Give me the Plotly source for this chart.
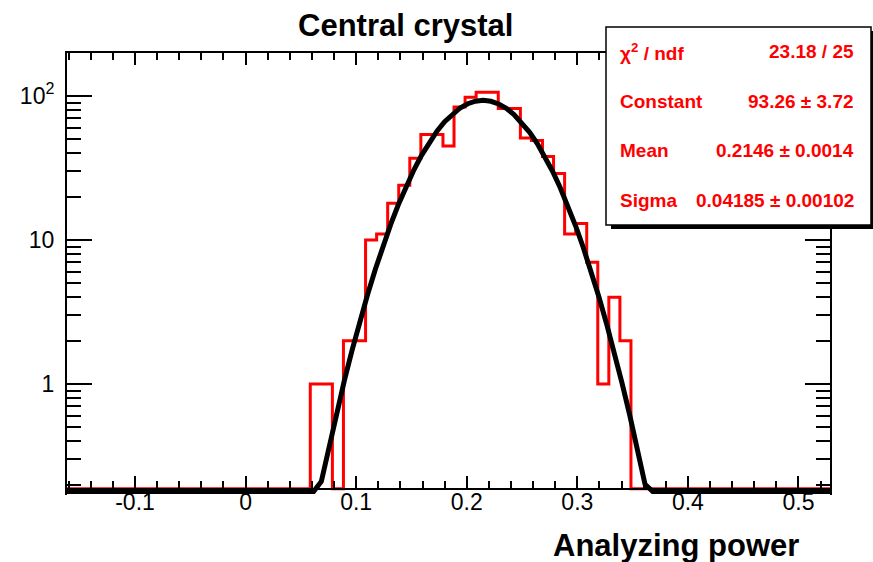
import numpy as np
import plotly.graph_objects as go

# ---------------- data ----------------
TITLE = "Central crystal"
X_TITLE = "Analyzing power"

X_MIN, X_MAX = -0.1615, 0.5285          # histogram / axis range
BIN_WIDTH = 0.01
FIRST_FILLED_BIN_LOW = 0.0585
COUNTS = [1, 1, 0, 2, 2, 10, 11, 18, 24, 37, 54, 54, 45, 84, 98, 106, 106,
          82, 82, 51, 49, 38, 29, 11, 13, 7, 1, 4, 2]

FIT_CONSTANT = 93.26
FIT_MEAN = 0.2146
FIT_SIGMA = 0.04185
FIT_POINTS = 100

STAT_LABELS = ["χ<sup>2</sup> / ndf", "Constant", "Mean", "Sigma"]
STAT_VALUES = ["23.18 / 25", "93.26 ± 3.72", "0.2146 ± 0.0014", "0.04185 ± 0.00102"]

X_TICKS = [-0.1, 0.0, 0.1, 0.2, 0.3, 0.4, 0.5]
X_TICK_LABELS = ["-0.1", "0", "0.1", "0.2", "0.3", "0.4", "0.5"]
Y_TICKS = [1, 10, 100]
Y_TICK_LABELS = ["1", "10", "10<sup>2</sup>"]
Y_MINOR = [m * 10.0 ** e for e in (-1, 0, 1, 2) for m in range(2, 10)
           if 0.18 <= m * 10.0 ** e <= 200]

Y_FRAME_MIN = 0.187    # value at the bottom of the frame (ROOT minimum)
CURVE_FLOOR = 0.179    # thick fit line sits on the bottom of the frame

# ---------------- geometry (pixels) ----------------
W, H = 873, 562
L, R, T, B = 67, 830, 53, 495
FRAME_BOTTOM = 489
PW, PH = R - L, B - T
LOG_BOTTOM = (384 - B) / 144.0
LOG_TOP = (384 - T) / 144.0


def px(xp):
    return (xp - L) / PW


def py(yp):
    return (B - yp) / PH


FONT = "Liberation Sans, Arial, Helvetica, sans-serif"

# ---------------- histogram ----------------
n_bins = int(round((X_MAX - X_MIN) / BIN_WIDTH))
first = int(round((FIRST_FILLED_BIN_LOW - X_MIN) / BIN_WIDTH))
counts_full = np.zeros(n_bins)
counts_full[first:first + len(COUNTS)] = COUNTS
edges = X_MIN + BIN_WIDTH * np.arange(n_bins + 1)
shown = np.maximum(counts_full, Y_FRAME_MIN)
hx = list(edges[:-1]) + [edges[-1]]
hy = list(shown) + [shown[-1]]

# ---------------- fit curve ----------------
fx = np.linspace(X_MIN, X_MAX, FIT_POINTS)
fy = FIT_CONSTANT * np.exp(-0.5 * ((fx - FIT_MEAN) / FIT_SIGMA) ** 2)
fy = np.maximum(fy, CURVE_FLOOR)

fig = go.Figure()
fig.add_trace(go.Scatter(x=hx, y=hy, mode="lines", line=dict(color="#ff0000", width=3, shape="hv"),
                         hoverinfo="skip", showlegend=False))
fig.add_trace(go.Scatter(x=fx, y=fy, mode="lines", line=dict(color="black", width=5),
                         hoverinfo="skip", showlegend=False))
fig.add_trace(go.Scatter(x=[X_MIN], y=[1], xaxis="x2", yaxis="y2", mode="markers",
                         marker=dict(opacity=0), hoverinfo="skip", showlegend=False))

tick_common = dict(ticks="inside", tickcolor="black", tickwidth=1.5, showgrid=False,
                   zeroline=False, showline=True, linecolor="black", linewidth=2)

fig.update_layout(
    width=W, height=H,
    margin=dict(l=L, r=W - R, t=T, b=H - B, pad=0),
    paper_bgcolor="white", plot_bgcolor="white",
    xaxis=dict(range=[X_MIN, X_MAX], anchor="free", position=py(FRAME_BOTTOM),
               tickmode="array", tickvals=X_TICKS, ticktext=X_TICK_LABELS, ticklen=12,
               tickfont=dict(family=FONT, size=23, color="black"), ticklabelstandoff=-8,
               minor=dict(ticks="inside", tickmode="linear", tick0=0, dtick=0.02, ticklen=7,
                          tickcolor="black", tickwidth=1.5, showgrid=False),
               **tick_common),
    xaxis2=dict(range=[X_MIN, X_MAX], overlaying="x", matches="x", side="top", anchor="y",
                tickmode="array", tickvals=X_TICKS, ticklen=12, showticklabels=False,
                minor=dict(ticks="inside", tickmode="linear", tick0=0, dtick=0.02, ticklen=7,
                           tickcolor="black", tickwidth=1.5, showgrid=False),
                **tick_common),
    yaxis=dict(type="log", range=[LOG_BOTTOM, LOG_TOP], anchor="x",
               tickmode="array", tickvals=Y_TICKS, ticktext=Y_TICK_LABELS, ticklen=25,
               tickfont=dict(family=FONT, size=23, color="black"), ticklabelstandoff=6,
               minor=dict(ticks="inside", tickmode="array", tickvals=Y_MINOR, ticklen=14,
                          tickcolor="black", tickwidth=1.5, showgrid=False),
               **tick_common),
    yaxis2=dict(type="log", range=[LOG_BOTTOM, LOG_TOP], overlaying="y", matches="y",
                side="right", anchor="x", showticklabels=False,
                tickmode="array", tickvals=Y_TICKS, ticklen=25,
                minor=dict(ticks="inside", tickmode="array", tickvals=Y_MINOR, ticklen=14,
                           tickcolor="black", tickwidth=1.5, showgrid=False),
                **tick_common),
)

# stats box (shadow + box)
BOX_L, BOX_R, BOX_T, BOX_B = 606, 871, 27, 225
fig.add_shape(type="rect", xref="paper", yref="paper", layer="above",
              x0=px(BOX_L + 5), x1=px(BOX_R + 5), y0=py(BOX_B + 4), y1=py(BOX_T + 4),
              fillcolor="black", line=dict(width=0))
fig.add_shape(type="rect", xref="paper", yref="paper", layer="above",
              x0=px(BOX_L), x1=px(BOX_R), y0=py(BOX_B), y1=py(BOX_T),
              fillcolor="white", line=dict(color="black", width=1.5))

row_h = (BOX_B - BOX_T) / len(STAT_LABELS)
for i, (lab, val) in enumerate(zip(STAT_LABELS, STAT_VALUES)):
    yc = py(BOX_T + (i + 0.5) * row_h)
    fig.add_annotation(x=px(BOX_L + 12), y=yc, xref="paper", yref="paper", text=f"<b>{lab}</b>",
                       showarrow=False, xanchor="left", yanchor="middle",
                       font=dict(family=FONT, size=19, color="#ff0000"))
    fig.add_annotation(x=px(BOX_R - 15), y=yc, xref="paper", yref="paper", text=f"<b>{val}</b>",
                       showarrow=False, xanchor="right", yanchor="middle",
                       font=dict(family=FONT, size=19, color="#ff0000"))

fig.add_annotation(x=px(405), y=py(25), xref="paper", yref="paper", text=f"<b>{TITLE}</b>",
                   showarrow=False, xanchor="center", yanchor="middle",
                   font=dict(family=FONT, size=31, color="black"))
fig.add_annotation(x=px(801), y=py(545), xref="paper", yref="paper", text=f"<b>{X_TITLE}</b>",
                   showarrow=False, xanchor="right", yanchor="middle",
                   font=dict(family=FONT, size=31, color="black"))

fig.write_html("out.html")
